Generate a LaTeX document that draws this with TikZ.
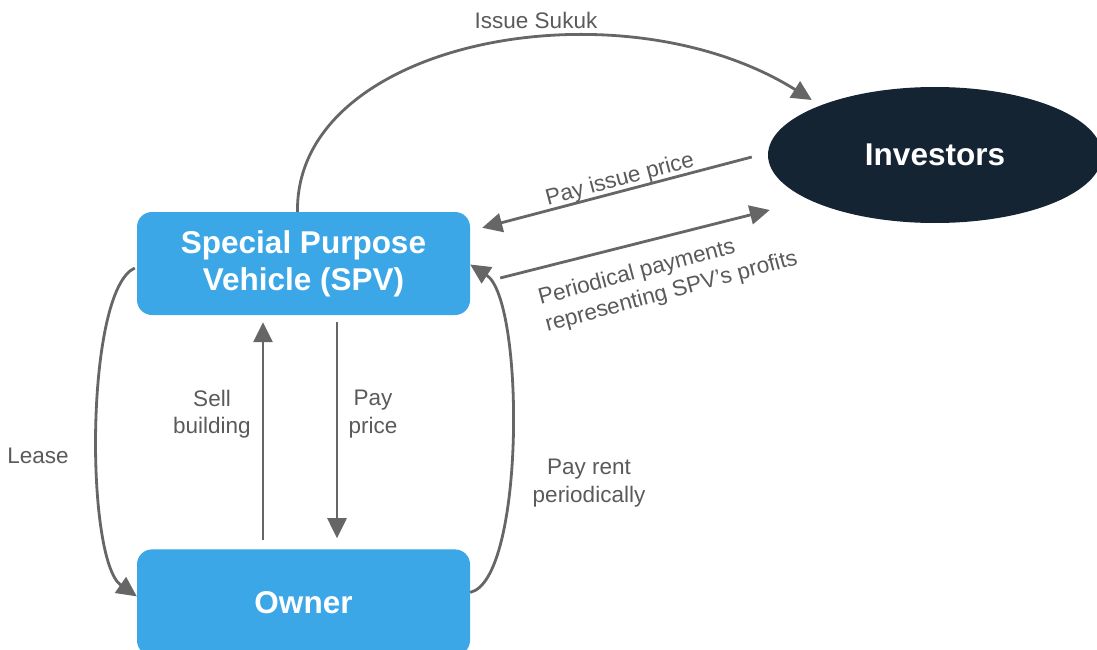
\documentclass[tikz,border=0pt]{standalone}
\usepackage{fontspec}
\setmainfont{Liberation Sans}
\usetikzlibrary{positioning,shapes.geometric,arrows.meta}

\definecolor{boxblue}{HTML}{3BA7E7}
\definecolor{invnavy}{HTML}{152433}
\definecolor{arrgray}{HTML}{666666}
\definecolor{txtgray}{HTML}{5A5A5A}

\begin{document}
\begin{tikzpicture}[x=1pt, y=-1pt,
    party/.style={draw=none, fill=boxblue, rounded corners=15pt, text=white,
        font=\fontsize{31.5}{37}\selectfont\bfseries, align=center,
        minimum width=333pt, inner sep=0pt},
    flow/.style={draw=arrgray, line width=2.8pt,
        -{Triangle[length=20pt, width=19pt]}},
    lbl/.style={text=txtgray, font=\fontsize{22.5}{27.5}\selectfont, align=center, inner sep=0pt}]

    % page frame, the owner box runs off the bottom edge
    \useasboundingbox (0,0) rectangle (1097,650);
    \clip (0,0) rectangle (1097,650);

    \node[party, minimum height=103pt] (spv) at (303.5,263.5) {Special Purpose\\Vehicle (SPV)};
    \node[party, minimum height=106pt] (owner) [below=234pt of spv] {Owner};
    \node[ellipse, fill=invnavy, text=white, minimum width=334pt, minimum height=136pt,
        font=\fontsize{31.5}{37}\selectfont\bfseries] (inv) at (935,155) {Investors};

    \node[lbl] (sukuk) at (536,20) {Issue Sukuk};
    \node[lbl, rotate=15] (issueprice) at (620,180) {Pay issue price};
    \node[lbl, rotate=15, align=left] (periodical) at (668,279) {Periodical payments\\representing SPV’s profits};
    \node[lbl] (sell) at (212,414) {Sell\\building};
    \node[lbl] (payprice) at (373,414) {Pay\\price};
    \node[lbl] (lease) at (38,456) {Lease};
    \node[lbl] (rent) at (589,483) {Pay rent\\periodically};

    \draw[flow] ([xshift=-6pt]spv.north) .. controls (295,40) and (620,-20) .. ([xshift=44pt,yshift=55pt]inv.west);
    \draw[flow] ([xshift=-16pt,yshift=-2pt]inv.west) -- ([xshift=12pt,yshift=-16pt]spv.north east);
    \draw[flow] ([xshift=30pt,yshift=-14.5pt]spv.east) -- ([xshift=2pt,yshift=-55pt]inv.west);
    \draw[flow] ([xshift=-40.5pt,yshift=9pt]owner.north) -- ([xshift=-40.5pt,yshift=-7pt]spv.south);
    \draw[flow] ([xshift=33.5pt,yshift=-7pt]spv.south) -- ([xshift=33.5pt,yshift=11pt]owner.north);
    \draw[flow] ([xshift=-2pt,yshift=-4.5pt]spv.west) .. controls (85,290) and (85,560) .. ([yshift=6pt]owner.west);
    \draw[flow] ([yshift=10pt]owner.east) .. controls (525,580) and (525,300) .. ([yshift=-1pt]spv.east);
\end{tikzpicture}
\end{document}
